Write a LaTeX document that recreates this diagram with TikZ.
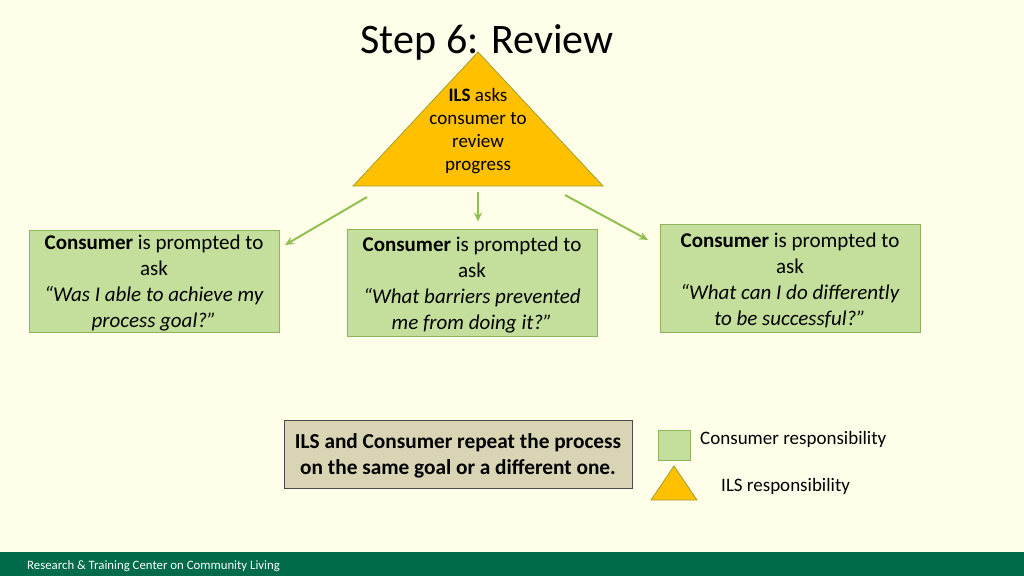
\documentclass[tikz,border=0pt]{standalone}
\usepackage{fontspec}
\setmainfont{Carlito}
\usetikzlibrary{arrows.meta}
\definecolor{bgc}{HTML}{FFFFE9}
\definecolor{boxg}{HTML}{C4DF9B}
\definecolor{boxb}{HTML}{8DB45A}
\definecolor{arrg}{HTML}{92C050}
\definecolor{gold}{HTML}{FFC000}
\definecolor{goldb}{HTML}{A0A030}
\definecolor{tan}{HTML}{D8D4B4}
\definecolor{foot}{HTML}{006B4A}
\tikzset{
  cbox/.style={draw=boxb, fill=boxg, line width=0.8pt, inner sep=0pt},
  ctext/.style={font=\fontsize{21}{26}\selectfont, align=center, inner sep=0pt, yshift=-2.5pt},
  conn/.style={draw=arrg, line width=2pt, -{Stealth[length=9pt,width=8pt]}},
  tri/.style={draw=goldb, fill=gold, line width=0.8pt},
}
\begin{document}
\begin{tikzpicture}[x=1pt,y=-1pt]
\useasboundingbox (0,0) rectangle (1024,576);
\fill[bgc] (0,0) rectangle (1024,576);
\fill[foot] (0,552) rectangle (1024,576);
\node[anchor=west, text=white, font=\fontsize{12.8}{15}\selectfont, inner sep=0pt] (foottext) at (27,566) {Research \& Training Center on Community Living};
\node[font=\fontsize{42}{48}\selectfont, inner sep=0pt] (title) at (487,42) {Step 6: Review};
% triangle
\draw[tri] (478,52) -- (603,186) -- (353,186) -- cycle;
\node[align=center, font=\fontsize{19}{23}\selectfont, inner sep=0pt] (ils) at (478,131.5) {\textbf{ILS} asks\\consumer to\\review\\progress};
\coordinate (tl) at (367,197);
\coordinate (tm) at (478,192);
\coordinate (tr) at (565,195);
% boxes
\node[cbox, minimum width=250pt, minimum height=102pt, label={[ctext]center:{\textbf{Consumer} is prompted to\\ask\\\textit{“Was I able to achieve my}\\\textit{process goal?”}}}] (b1) at (154,281) {};
\node[cbox, minimum width=250pt, minimum height=107pt, label={[ctext]center:{\textbf{Consumer} is prompted to\\ask\\\textit{“What barriers prevented}\\\textit{me from doing it?”}}}] (b2) at (472,282.5) {};
\node[cbox, minimum width=260pt, minimum height=108pt, label={[ctext]center:{\textbf{Consumer} is prompted to\\ask\\\textit{“What can I do differently}\\\textit{to be successful?”}}}] (b3) at (790,278) {};
\draw[conn] (tl) -- (285,245);
\draw[conn, shorten >=7pt] (tm) -- (tm |- b2.north);
\draw[conn] (tr) -- (648,240);
% bottom box
\node[draw=black!70, fill=tan, line width=0.8pt, minimum width=348pt, minimum height=68pt, inner sep=0pt, label={[ctext, yshift=0.5pt, font=\bfseries\fontsize{21.3}{26}\selectfont]center:{ILS and Consumer repeat the process\\on the same goal or a different one.}}] (rep) at (458,454) {};
% legend
\node[draw=boxb, fill=boxg, line width=0.8pt, minimum width=32pt, minimum height=30pt, inner sep=0pt] (lsq) at (674,445) {};
\node[anchor=west, font=\fontsize{19}{22}\selectfont, inner sep=0pt] (lsqt) at (700,439) {Consumer responsibility};
\draw[tri] (674,466) -- (697,500) -- (651,500) -- cycle;
\node[anchor=west, font=\fontsize{19}{22}\selectfont, inner sep=0pt] (ltrt) at (721,486) {ILS responsibility};
\end{tikzpicture}
\end{document}
